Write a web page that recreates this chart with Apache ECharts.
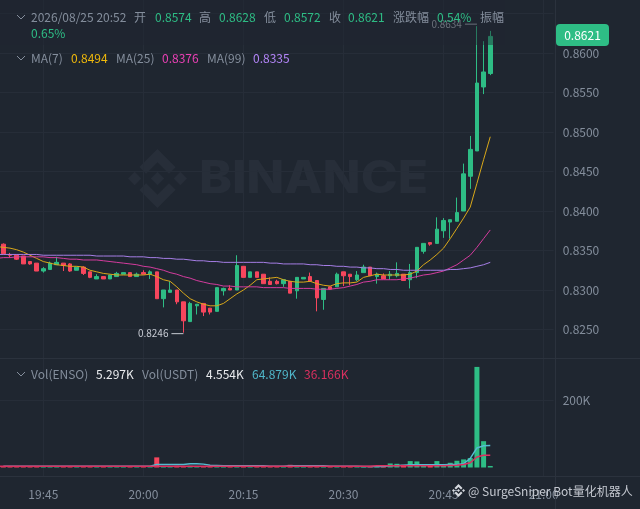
<!DOCTYPE html>
<html><head><meta charset="utf-8">
<style>html,body{margin:0;padding:0;background:#1f2630}#c{width:640px;height:509px}</style>
<script src="https://cdn.jsdelivr.net/npm/echarts@6/dist/echarts.min.js"></script>
</head><body><div id="c"></div>
<script>
const times=['19:38','19:39','19:40','19:41','19:42','19:43','19:44','19:45','19:46','19:47','19:48','19:49','19:50','19:51','19:52','19:53','19:54','19:55','19:56','19:57','19:58','19:59','20:00','20:01','20:02','20:03','20:04','20:05','20:06','20:07','20:08','20:09','20:10','20:11','20:12','20:13','20:14','20:15','20:16','20:17','20:18','20:19','20:20','20:21','20:22','20:23','20:24','20:25','20:26','20:27','20:28','20:29','20:30','20:31','20:32','20:33','20:34','20:35','20:36','20:37','20:38','20:39','20:40','20:41','20:42','20:43','20:44','20:45','20:46','20:47','20:48','20:49','20:50','20:51','20:52','20:53','20:54','20:55','20:56','20:57','20:58','20:59','21:00','21:01'];
const opens=[null,.8358,.8345,.8344,.8343,.8336,.8334,.8324,.8326,.8332,.8334,.8333,.8325,.8329,.8323,.8314,.8317,.8314,.8317,.8320,.8322,.8317,.8322,.8320,.8323,.8289,.8297,.8300,.8285,.8260,.8280,.8283,.8277,.8273,.8299,.8302,.8300,.8330,.8316,.8323,.8320,.8311,.8311,.8308,.8311,.8299,.8314,.8317,.8312,.8288,.8304,.8304,.8323,.8320,.8313,.8322,.8329,.8317,.8318,.8318,.8318,.8320,.8313,.8322,.8349,.8360,.8359,.8375,.8386,.8387,.8400,.8444,.8476,.8557,.8574];
const closes=[null,.8346,.8344,.8339,.8333,.8333,.8324,.8327,.8334,.8335,.8331,.8324,.8329,.8321,.8316,.8317,.8314,.8319,.8321,.8322,.8317,.8320,.8320,.8323,.8289,.8300,.8300,.8285,.8261,.8283,.8282,.8272,.8272,.8303,.8302,.8300,.8331,.8316,.8323,.8316,.8308,.8307,.8308,.8313,.8296,.8316,.8316,.8311,.8290,.8302,.8301,.8320,.8318,.8317,.8319,.8329,.8318,.8320,.8314,.8320,.8321,.8312,.8322,.8354,.8359,.8358,.8377,.8388,.8389,.8398,.8447,.8478,.8562,.8576,.8621];
const lows=[null,.8345,.8341,.8338,.8333,.8332,.8324,.8322,.8326,.8332,.8324,.8323,.8325,.8319,.8315,.8314,.8314,.8314,.8317,.8320,.8317,.8317,.8320,.8314,.8289,.8278,.8297,.8282,.8246,.8260,.8269,.8267,.8269,.8273,.8293,.8300,.8300,.8316,.8316,.8316,.8308,.8307,.8307,.8304,.8296,.8289,.8314,.8311,.8273,.8275,.8300,.8304,.8305,.8306,.8311,.8322,.8318,.8308,.8314,.8313,.8316,.8312,.8302,.8315,.8346,.8356,.8359,.8366,.8365,.8387,.8400,.8428,.8476,.8548,.8572];
const highs=[null,.8359,.8347,.8345,.8343,.8336,.8334,.8329,.8336,.8342,.8334,.8334,.8329,.8330,.8323,.8320,.8317,.8319,.8323,.8322,.8322,.8322,.8325,.8325,.8323,.8300,.8311,.8300,.8285,.8285,.8282,.8283,.8277,.8303,.8303,.8306,.8344,.8330,.8323,.8323,.8320,.8316,.8313,.8313,.8311,.8316,.8316,.8322,.8312,.8302,.8304,.8322,.8323,.8320,.8324,.8332,.8329,.8322,.8321,.8324,.8335,.8320,.8333,.8354,.8359,.8360,.8392,.8391,.8389,.8417,.8460,.8495,.8634,.8615,.8628];
const ma7=[.8355,.8354,.8353,.8351,.8348,.8344,.8340,.8336,.8334,.8332,.8331,.8330,.8330,.8329,.8325,.8323,.8321,.8320,.8319,.8319,.8319,.8319,.8319,.8320,.8317,.8313,.8311,.8304,.8296,.8289,.8285,.8282,.8280,.8280,.8283,.8289,.8295,.8300,.8306,.8313,.8314,.8315,.8316,.8313,.8311,.8310,.8310,.8311,.8308,.8306,.8305,.8308,.8309,.8309,.8310,.8316,.8318,.8320,.8319,.8319,.8319,.8319,.8320,.8324,.8332,.8338,.8345,.8353,.8365,.8378,.8391,.8405,.8435,.8465,.8494];
const ma25=[.8340,.8341,.8341,.8342,.8342,.8342,.8342,.8342,.8341,.8341,.8340,.8339,.8339,.8338,.8338,.8338,.8337,.8336,.8335,.8334,.8333,.8332,.8330,.8329,.8327,.8325,.8322,.8320,.8317,.8315,.8312,.8310,.8308,.8307,.8305,.8305,.8304,.8304,.8304,.8304,.8303,.8303,.8303,.8303,.8302,.8302,.8302,.8302,.8301,.8301,.8301,.8302,.8303,.8305,.8307,.8310,.8311,.8313,.8313,.8313,.8313,.8314,.8315,.8317,.8319,.8320,.8322,.8324,.8328,.8332,.8338,.8344,.8354,.8365,.8376];
const ma99=[.8345,.8345,.8345,.8345,.8345,.8345,.8345,.8344,.8344,.8344,.8344,.8344,.8344,.8344,.8344,.8343,.8343,.8343,.8343,.8343,.8342,.8342,.8342,.8341,.8341,.8340,.8340,.8339,.8339,.8338,.8337,.8337,.8336,.8336,.8335,.8335,.8335,.8335,.8335,.8335,.8335,.8334,.8334,.8333,.8333,.8333,.8333,.8332,.8332,.8331,.8331,.8330,.8330,.8329,.8329,.8328,.8328,.8327,.8327,.8326,.8326,.8325,.8325,.8325,.8325,.8325,.8325,.8325,.8326,.8326,.8327,.8328,.8330,.8332,.8335];
const vols=[null,3000,3000,3000,2000,2000,3000,2000,2000,3000,2000,2000,2000,3000,2000,2000,2000,3000,2000,2000,2000,2000,3000,3000,30000,4000,3000,5000,4000,5000,4000,4000,3000,4000,3000,3000,5000,3000,3000,3000,4000,3000,3000,2000,8000,3000,2000,3000,5000,3000,2000,3000,3000,2000,2000,3000,3000,3000,5000,12000,11000,8000,19000,18000,8000,8000,19000,10000,14000,20000,24000,28000,298000,78000,4554];
const volMa7=[null,4000,4000,4000,4000,4000,4000,4000,4000,4000,4000,4000,4000,4000,4000,4000,4000,4000,4000,4000,4000,4000,4000,4000,9000,9000,9000,9000,9000,11000,11000,10000,7000,6000,5000,5000,5000,5000,5000,5000,5000,4000,4000,4000,5000,5000,5000,5000,5000,5000,4000,4000,4000,4000,4000,3000,3000,3000,3000,5000,6000,7000,8000,8000,8000,8000,8000,8000,9000,9000,11000,27000,58000,64600,64879];
const volMa25=[4000,4000,4000,4000,4000,4000,4000,4000,4000,4000,4000,4000,4000,4000,4000,4000,4000,4000,4000,4000,4000,4000,4000,4000,4000,4000,4000,4000,4000,4000,4000,4000,4000,4000,4000,4000,4000,4000,4000,4000,4000,4000,4000,4000,4000,4000,4000,4000,4000,4000,4000,4000,4000,4000,4000,4000,4000,5000,5000,5000,5000,5000,5000,5000,5000,5000,5000,5000,6000,7000,9000,14000,31000,36000,36166];
const headerRows=[
 ['2026/08/25 20:52',31,17,'#848e9c'],['开',134,17,'#848e9c'],['0.8574',155,17,'#2ebd85'],['高',199,17,'#848e9c'],['0.8628',219,17,'#2ebd85'],['低',264,17,'#848e9c'],['0.8572',284,17,'#2ebd85'],['收',329,17,'#848e9c'],['0.8621',348,17,'#2ebd85'],['涨跌幅',393,17,'#848e9c'],['0.54%',437,17,'#2ebd85'],['振幅',480,17,'#848e9c'],['0.65%',31,33,'#2ebd85'],
 ['MA(7)',31,58,'#848e9c'],['0.8494',71,58,'#f0b90b'],['MA(25)',116,58,'#848e9c'],['0.8376',162,58,'#eb40b5'],['MA(99)',207,58,'#848e9c'],['0.8335',253,58,'#b385f8'],
 ['Vol(ENSO)',31,374,'#848e9c'],['5.297K',96,374,'#eaecef'],['Vol(USDT)',142,374,'#848e9c'],['4.554K',206,374,'#eaecef'],['64.879K',252,374,'#4fb6c9'],['36.166K',304,374,'#d9305f']
];
const UP='#2ebd85',DOWN='#f6465d',GRID='#262d38',SEP='#2b323d',AXIS='#848e9c',BG='#1f2630';
const FONT='"Noto Sans CJK SC","Noto Sans",sans-serif';
const LOGO=[[[38.73,53.2],[63.3,28.63],[87.88,53.21],[102.2,38.9],[63.3,0],[24.42,38.88]],[[0,63.31],[14.3,49],[28.6,63.3],[14.3,77.6]],[[38.73,73.41],[63.3,97.99],[87.88,73.4],[102.2,87.7],[63.3,126.61],[24.42,87.72]],[[98.01,63.3],[112.31,49],[126.61,63.3],[112.31,77.6]],[[77.83,63.3],[63.3,48.78],[48.8,63.31],[63.3,77.8]]];
const logo=(x,y,s,fill,z)=>LOGO.map(p=>({type:'polygon',z,shape:{points:p.map(q=>[x+q[0]*s/126.61,y+q[1]*s/126.61])},style:{fill}}));
const onQuarter=(i,v)=>v.endsWith(':00')||v.endsWith(':15')||v.endsWith(':30')||v.endsWith(':45');
const chev=(x,y)=>({type:'polyline',z:60,shape:{points:[[x,y],[x+4,y+4],[x+8,y]]},style:{fill:null,stroke:'#848e9c',lineWidth:1}});
const line=(x1,y1,x2,y2)=>({type:'line',z:1,shape:{x1,y1,x2,y2},style:{stroke:SEP,lineWidth:1}});
const hiddenX=g=>({type:'category',gridIndex:g,data:times,show:false});
const candles=opens.map((o,i)=>o==null?'-':[o,closes[i],lows[i],highs[i]]);
const graphic=[
 ...logo(128,149,59,'#272e39',0),
 {type:'text',z:0,x:199,y:179,scaleX:1.105,style:{text:'BINANCE',fill:'#272e39',font:'800 45px Inter,sans-serif',verticalAlign:'middle',textVerticalAlign:'middle'}},
 line(0,358.5,640,358.5),line(0,476.5,640,476.5),line(555.5,0,555.5,509),
 {type:'rect',z:50,shape:{x:0,y:0,width:505,height:45},style:{fill:BG,opacity:.45}},
 chev(17,15),chev(17,56),chev(17,372),
 ...headerRows.map(r=>({type:'text',z:60,x:r[1],y:r[2],style:{text:r[0],fill:r[3],font:'12px '+FONT,verticalAlign:'middle',textVerticalAlign:'middle'}})),
 {type:'rect',z:60,shape:{x:556,y:24,width:53,height:22,r:4},style:{fill:UP}},
 {type:'text',z:61,x:582.5,y:35,style:{text:'0.8621',fill:'#ffffff',font:'12px '+FONT,align:'center',verticalAlign:'middle',textAlign:'center',textVerticalAlign:'middle'}},
 ...logo(452,484,13,'#d5d8de',62),
 {type:'text',z:62,x:468,y:491,style:{text:'@ SurgeSniper Bot量化机器人',fill:'#c4c8d0',font:'12px '+FONT,verticalAlign:'middle',textVerticalAlign:'middle'}}
];
const maLine=(name,data,color,x,y,w)=>({name,type:'line',xAxisIndex:x,yAxisIndex:y,data,symbol:'none',z:3,lineStyle:{color,width:w},itemStyle:{color},silent:true});
const mark=(idx,val,txt,color,lc,dy)=>({coord:[times[idx],val],symbol:'rect',symbolSize:[12,1],symbolOffset:[-6,dy],itemStyle:{color:lc},label:{show:true,position:'left',distance:3,formatter:txt,color,fontSize:10,fontFamily:FONT}});
const gridBase={outerBoundsMode:'none',containLabel:false,left:-6.67,width:560.3};
const option={
 animation:false,backgroundColor:BG,graphic,
 grid:[
  {...gridBase,top:-26,height:395},
  {...gridBase,top:358,height:109.5},
  {...gridBase,top:0,height:476}
 ],
 xAxis:[hiddenX(0),hiddenX(1),{type:'category',gridIndex:2,data:times,boundaryGap:true,
   axisLine:{show:false},axisTick:{show:false,alignWithLabel:true,interval:onQuarter},
   axisLabel:{interval:onQuarter,color:AXIS,fontSize:12,fontFamily:FONT,margin:12,hideOverlap:false},
   splitLine:{show:true,alignWithLabel:true,interval:onQuarter,lineStyle:{color:GRID,width:1}}}],
 yAxis:[
  {type:'value',gridIndex:0,position:'right',min:.82,max:.87,interval:.005,
   axisLine:{show:false},axisTick:{show:false},
   axisLabel:{color:AXIS,fontSize:12,fontFamily:FONT,margin:9,formatter:v=>(v<.824||v>.861)?'':v.toFixed(4)},
   splitLine:{lineStyle:{color:GRID,width:1},showMinLine:false,showMaxLine:false}},
  {type:'value',gridIndex:1,position:'right',min:0,max:324400,interval:200000,
   axisLine:{show:false},axisTick:{show:false},
   axisLabel:{color:AXIS,fontSize:12,fontFamily:FONT,margin:9,formatter:v=>v===200000?'200K':''},
   splitLine:{lineStyle:{color:GRID,width:1},showMinLine:false,showMaxLine:false}},
  {type:'value',gridIndex:2,show:false}
 ],
 series:[
  {name:'K',type:'candlestick',xAxisIndex:0,yAxisIndex:0,data:candles,barWidth:4,z:2,silent:true,
   itemStyle:{color:UP,color0:DOWN,borderColor:UP,borderColor0:DOWN,borderWidth:1},
   markPoint:{silent:true,data:[mark(28,.8246,'0.8246','#c8ccd4','#c8ccd4',1),mark(72,.8634,'0.8634','#a8adb6','#a8adb6',-2)]}},
  maLine('MA7',ma7,'#d9a81a',0,0,1),maLine('MA25',ma25,'#d43c9e',0,0,1),maLine('MA99',ma99,'#a67ee6',0,0,1),
  {name:'Vol',type:'bar',xAxisIndex:1,yAxisIndex:1,barWidth:5,z:2,silent:true,
   data:vols.map((v,i)=>v==null?'-':{value:v,itemStyle:{color:closes[i]>=opens[i]?UP:DOWN}})},
  maLine('VolMA7',volMa7,'#55bcd0',1,1,1.5),maLine('VolMA25',volMa25,'#dc2f60',1,1,1.5)
 ]
};
echarts.init(document.getElementById('c'),null,{renderer:'canvas'}).setOption(option);
</script></body></html>
